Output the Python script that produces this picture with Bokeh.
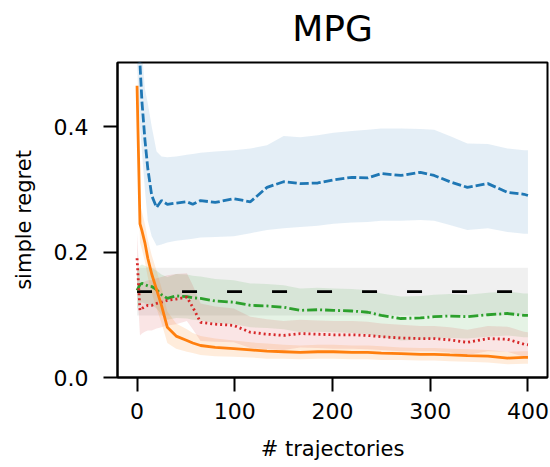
from bokeh.plotting import figure
from bokeh.models import Range1d, FixedTicker, PrintfTickFormatter, Title
from bokeh.embed import file_html
from bokeh.resources import INLINE

# ---- data ----
x = [0, 3, 5, 8, 11, 15, 20, 25, 31, 40, 51, 57, 65, 80, 99, 116, 133, 150, 167,
     185, 201, 220, 236, 250, 270, 290, 304, 320, 338, 359, 379, 396, 400]

blue = [0.65, 0.50, 0.44, 0.38, 0.333, 0.29, 0.271, 0.282, 0.276, 0.278, 0.280, 0.276, 0.282,
        0.279, 0.285, 0.280, 0.303, 0.312, 0.309, 0.310, 0.315, 0.319, 0.318, 0.325, 0.322,
        0.327, 0.322, 0.312, 0.303, 0.309, 0.295, 0.292, 0.290]
blue_hi = [0.80, 0.60, 0.52, 0.46, 0.437, 0.40, 0.36, 0.352, 0.351, 0.352, 0.355, 0.356, 0.358,
           0.360, 0.362, 0.365, 0.370, 0.385, 0.383, 0.386, 0.390, 0.393, 0.395, 0.397, 0.397,
           0.396, 0.395, 0.385, 0.373, 0.372, 0.365, 0.362, 0.362]
blue_lo = [0.50, 0.40, 0.36, 0.30, 0.25, 0.225, 0.21, 0.212, 0.215, 0.218, 0.220, 0.221, 0.223,
           0.224, 0.225, 0.230, 0.235, 0.238, 0.240, 0.242, 0.245, 0.247, 0.248, 0.250, 0.250,
           0.251, 0.250, 0.243, 0.235, 0.238, 0.232, 0.229, 0.229]

orange = [0.465, 0.245, 0.234, 0.215, 0.19, 0.165, 0.14, 0.115, 0.08, 0.066, 0.059, 0.055, 0.051,
          0.048, 0.046, 0.044, 0.042, 0.041, 0.040, 0.041, 0.041, 0.040, 0.040, 0.039, 0.038,
          0.037, 0.037, 0.036, 0.035, 0.034, 0.031, 0.032, 0.032]
orange_hw = [0.02, 0.03, 0.03, 0.03, 0.03, 0.03, 0.03, 0.028, 0.025, 0.02, 0.018, 0.016, 0.015,
             0.014, 0.013, 0.012, 0.012, 0.011, 0.011, 0.011, 0.011, 0.011, 0.011, 0.011, 0.01,
             0.01, 0.01, 0.01, 0.01, 0.01, 0.01, 0.01, 0.01]

red = [0.19, 0.107, 0.11, 0.113, 0.115, 0.115, 0.118, 0.12, 0.123, 0.125, 0.128, 0.112, 0.088,
       0.085, 0.083, 0.072, 0.069, 0.067, 0.070, 0.069, 0.068, 0.068, 0.067, 0.065, 0.063,
       0.062, 0.062, 0.060, 0.056, 0.062, 0.061, 0.053, 0.052]
red_hw = [0.04, 0.04, 0.04, 0.04, 0.04, 0.04, 0.04, 0.04, 0.04, 0.04, 0.038, 0.035, 0.03,
          0.028, 0.027, 0.025, 0.024, 0.023, 0.022, 0.022, 0.022, 0.022, 0.022, 0.021, 0.021,
          0.02, 0.02, 0.02, 0.02, 0.02, 0.02, 0.02, 0.02]

green = [0.139, 0.148, 0.15, 0.148, 0.146, 0.145, 0.14, 0.132, 0.126, 0.13, 0.129, 0.127, 0.126,
         0.122, 0.12, 0.115, 0.114, 0.112, 0.107, 0.108, 0.107, 0.106, 0.104, 0.099, 0.094,
         0.095, 0.097, 0.098, 0.097, 0.100, 0.102, 0.099, 0.099]
green_hw = [0.03, 0.03, 0.03, 0.03, 0.03, 0.03, 0.03, 0.032, 0.034, 0.035, 0.035, 0.035, 0.035,
            0.035, 0.035, 0.035, 0.035, 0.035, 0.035, 0.035, 0.035, 0.035, 0.035, 0.035, 0.035,
            0.035, 0.035, 0.035, 0.035, 0.035, 0.035, 0.035, 0.035]

base_x = [0, 400]
base_y = [0.137, 0.137]
base_lo = [0.099, 0.099]
base_hi = [0.175, 0.175]

x_ticks = [0, 100, 200, 300, 400]
y_ticks = [0.0, 0.2, 0.4]

FONT = "DejaVu Sans"

p = figure(width=550, height=467, output_backend="svg", toolbar_location=None,
           x_range=Range1d(-20, 420), y_range=Range1d(0, 0.502),
           title=None, min_border_left=117, min_border_right=3,
           min_border_top=62, min_border_bottom=90)

# spacer (nearest the frame) then the real title above it
p.add_layout(Title(text=" ", text_font_size="11px", standoff=0), "above")
p.add_layout(Title(text="MPG", text_font=FONT, text_font_size="36px", standoff=0,
                   text_font_style="normal", align="center", text_color="black"), "above")

p.grid.visible = False
p.outline_line_color = "black"
p.outline_line_width = 2
p.outline_line_alpha = 1

for ax in (p.xaxis[0], p.yaxis[0]):
    ax.axis_line_width = 2
    ax.axis_line_color = "black"
    ax.major_tick_line_width = 2
    ax.major_tick_line_color = "black"
    ax.major_tick_out = 14
    ax.major_tick_in = 0
    ax.minor_tick_line_color = None
    ax.major_label_text_font = FONT
    ax.major_label_text_font_size = "22px"
    ax.major_label_text_color = "black"
    ax.axis_label_text_font = FONT
    ax.axis_label_text_font_size = "21px"
    ax.axis_label_text_font_style = "normal"
    ax.axis_label_text_color = "black"

p.xaxis.ticker = FixedTicker(ticks=x_ticks)
p.yaxis.ticker = FixedTicker(ticks=y_ticks)
p.yaxis.formatter = PrintfTickFormatter(format="%.1f")
p.xaxis.axis_label = "# trajectories"
p.yaxis.axis_label = "simple regret"
p.xaxis.major_label_standoff = 11
p.yaxis.major_label_standoff = 15
p.xaxis.axis_label_standoff = 15
p.yaxis.axis_label_standoff = 15

def lo(m, h):
    return [a - b for a, b in zip(m, h)]

def hi(m, h):
    return [a + b for a, b in zip(m, h)]

# bands
p.varea(x=base_x, y1=base_lo, y2=base_hi, fill_color="black", fill_alpha=0.06)
p.varea(x=x, y1=blue_lo, y2=blue_hi, fill_color="#1f77b4", fill_alpha=0.12)
p.varea(x=x, y1=lo(green, green_hw), y2=hi(green, green_hw), fill_color="#2ca02c", fill_alpha=0.12)
p.varea(x=x, y1=lo(red, red_hw), y2=hi(red, red_hw), fill_color="#d62728", fill_alpha=0.12)
p.varea(x=x, y1=lo(orange, orange_hw), y2=hi(orange, orange_hw), fill_color="#ff7f0e", fill_alpha=0.15)

# lines
p.line(base_x, base_y, line_color="black", line_width=2.8, line_dash="15 30")
p.line(x, blue, line_color="#1f77b4", line_width=2.8, line_dash="9 3")
p.line(x, green, line_color="#2ca02c", line_width=2.8, line_dash="10 3 2 3")
p.line(x, red, line_color="#d62728", line_width=2.8, line_dash="2 3")
p.line(x, orange, line_color="#ff7f0e", line_width=2.8)

open("out.html", "w").write(file_html(p, INLINE))
